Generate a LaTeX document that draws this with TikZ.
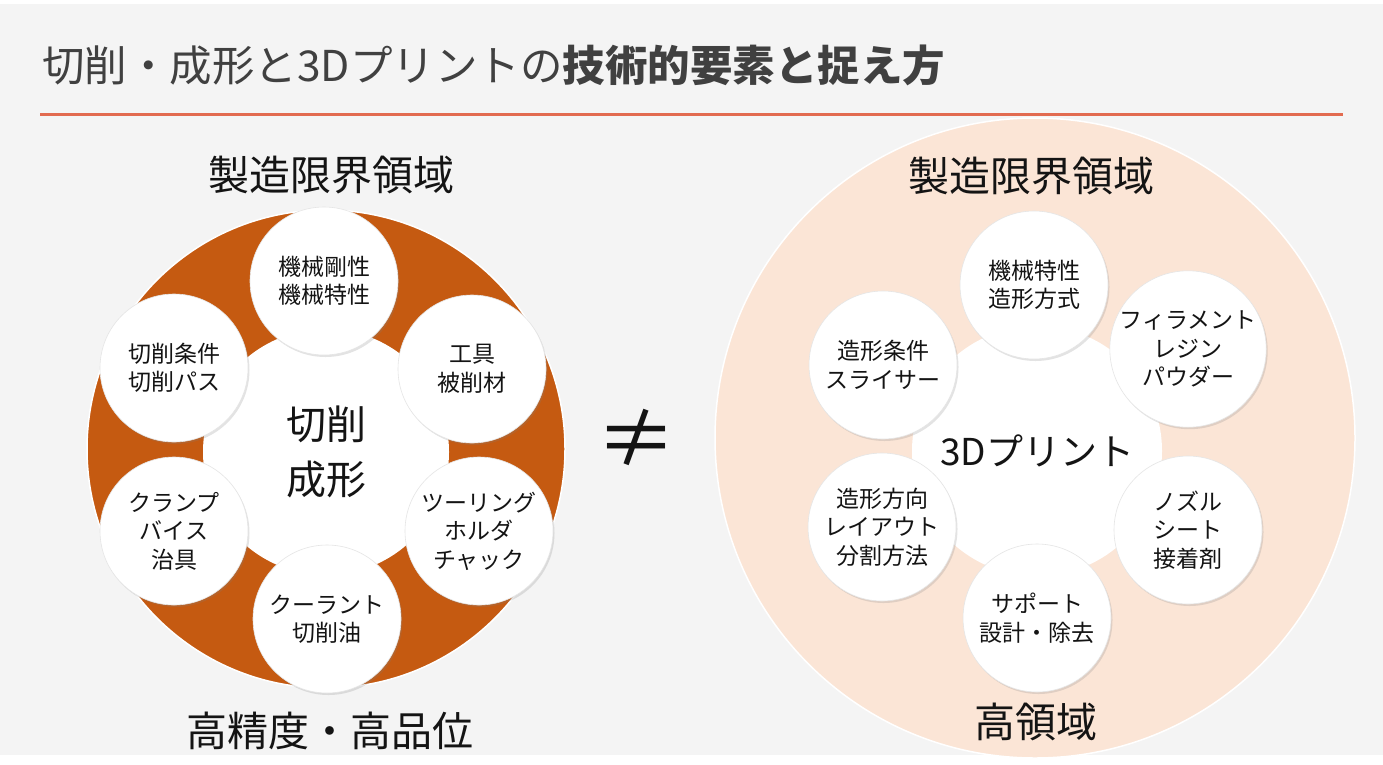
\documentclass[tikz,border=0pt]{standalone}
\usepackage{fontspec}
\setmainfont{Noto Sans CJK JP}
\usetikzlibrary{shadows}
\definecolor{bgc}{HTML}{F4F4F4}
\definecolor{peach}{HTML}{FBE5D6}
\definecolor{rust}{HTML}{C55A11}
\definecolor{rulec}{HTML}{E26B50}
\definecolor{titlec}{HTML}{404040}
\definecolor{txt}{HTML}{141414}
\begin{document}
\begin{tikzpicture}[x=1pt,y=-1pt,
  smallc/.style={circle, fill=white, draw=black!10, line width=0.6pt,
    minimum size=148pt, inner sep=0pt, align=center, text=txt,
    font=\fontsize{23}{28.5}\selectfont,
    drop shadow={opacity=0.22, shadow xshift=1.5pt, shadow yshift=-2pt}},
  bigring/.style={circle, draw=white, line width=1.5pt, inner sep=0pt},
  centerc/.style={circle, fill=white, inner sep=0pt, align=center, text=txt},
  biglabel/.style={inner sep=0pt, text=txt, font=\fontsize{41}{41}\selectfont}]
\useasboundingbox (0,0) rectangle (1383,764);
\fill[white] (0,0) rectangle (1383,764);
\fill[bgc] (0,4) rectangle (1383,755);

% title
\node[anchor=base west, inner sep=0pt, text=titlec, font=\fontsize{42.5}{42.5}\selectfont] (title) at (42,81)
  {切削・成形と3Dプリントの\textbf{技術的要素と捉え方}};
\coordinate (r1) at (40,114);
\coordinate (r2) at (1343,114);
\draw[rulec, line width=3pt] (r1) -- (r2);

% left diagram
\node[bigring, fill=rust, minimum size=478pt] (Lbig) at (326,449) {};
\node[centerc, minimum size=246pt, font=\fontsize{40}{55}\selectfont] (Lcen) at (326,452) {切削\\成形};
\node[smallc] (L1) at (324,281) {機械剛性\\機械特性};
\node[smallc] (L2) at (472,369) {工具\\被削材};
\node[smallc] (L3) at (479,531) {ツーリング\\ホルダ\\チャック};
\node[smallc] (L4) at (327,619) {クーラント\\切削油};
\node[smallc] (L5) at (174,531) {クランプ\\バイス\\治具};
\node[smallc] (L6) at (174,368) {切削条件\\切削パス};
\node[biglabel] (Ltop) at (331,175) {製造限界領域};
\node[biglabel] (Lbot) at (330,731) {高精度・高品位};

% not equal
\node[inner sep=0pt, text=txt, font=\fontsize{80}{80}\selectfont] (neq) at (636,438) {≠};

% right diagram
\node[bigring, fill=peach, minimum size=640pt] (Rbig) at (1035,438) {};
\node[centerc, minimum size=250pt, font=\fontsize{37}{40}\selectfont] (Rcen) at (1037,451) {3Dプリント};
\node[smallc] (R1) at (1034,285) {機械特性\\造形方式};
\node[smallc] (R2) at (1188,349) {フィラメント\\レジン\\パウダー};
\node[smallc] (R3) at (1188,530) {ノズル\\シート\\接着剤};
\node[smallc] (R4) at (1037,618) {サポート\\設計・除去};
\node[smallc] (R5) at (882,527) {造形方向\\レイアウト\\分割方法};
\node[smallc] (R6) at (883,365) {造形条件\\スライサー};
\node[biglabel] (Rtop) at (1031,176) {製造限界領域};
\node[biglabel] (Rbot) at (1036,722) {高領域};
\end{tikzpicture}
\end{document}
